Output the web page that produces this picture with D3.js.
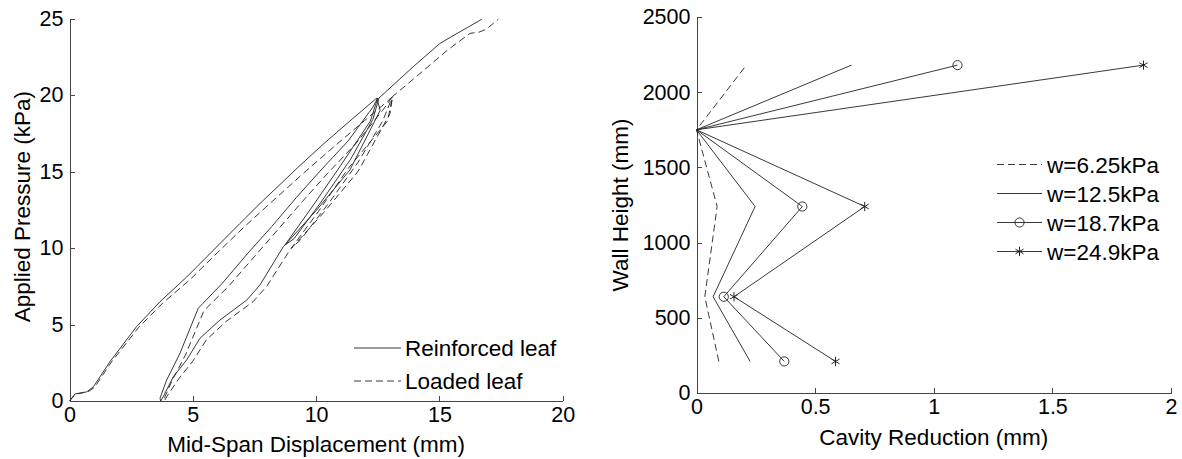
<!DOCTYPE html>
<html>
<head>
<meta charset="utf-8">
<script src="https://cdn.jsdelivr.net/npm/d3@7"></script>
<style>
  html, body { margin: 0; padding: 0; background: #fff; }
  svg { display: block; }
  text { font-family: Arial, "Liberation Sans", sans-serif; fill: #000; }
  .axis path, .axis line { stroke: #444; stroke-width: 1; shape-rendering: crispEdges; }
  .lbl { font-size: 22.5px; }
</style>
</head>
<body>
<svg id="chart" width="1182" height="459"></svg>
<script>
// ---- left panel: pressure vs mid-span displacement ----
const dispTicks = [0, 5, 10, 15, 20];
const pressTicks = [0, 5, 10, 15, 20, 25];

// reinforced leaf (solid) [displacement mm, pressure kPa]
const reinfLoad = [[0,0],[0.22,0.46],[0.7,0.6],[0.97,0.93],[1.64,2.57],[2.72,4.86],[3.67,6.49],[4.75,8.1],[5.83,9.85],[6.91,11.6],[7.72,12.9],[9.35,15.4],[10.3,16.8],[11.37,18.3],[12.46,19.8]];
const reinfUnload = [[12.6,19.0],[11.37,15.1],[10.02,12.48],[8.67,10.08],[7.72,7.58],[7.19,6.6],[6.1,5.29],[5.29,4.1],[4.75,2.68],[4.21,1.59],[3.8,0.28],[3.7,0]];
const reinfReload = [[3.67,0.18],[3.94,1.37],[4.48,3.12],[5.22,6.06],[6.2,7.7],[7.2,9.6],[8.2,11.4],[9.2,13.3],[10.2,15.1],[11.3,17.0],[12.3,19.2],[12.5,19.8]];
const reinfCycle = [[12.2,18.3],[11.0,15.4],[9.8,12.6],[8.74,10.2],[9.1,10.6],[10.2,13.0],[11.4,15.8],[12.3,18.4],[12.55,19.8]];
const reinfFinal = [[13.94,21.85],[15.02,23.37],[15.84,24.14],[16.72,24.95]];

// loaded leaf (dashed)
const loadedLoad = [[0,0],[0.25,0.45],[0.75,0.6],[1.02,0.9],[1.7,2.55],[2.8,4.8],[3.78,6.4],[4.9,7.95],[6.0,9.7],[7.1,11.4],[7.95,12.65],[9.6,15.05],[10.6,16.45],[11.8,18.1],[12.9,19.6],[13.1,19.9]];
const loadedUnload = [[13.0,18.8],[11.7,15.0],[10.3,12.3],[8.95,9.9],[8.0,7.5],[7.45,6.5],[6.35,5.2],[5.55,4.0],[5.0,2.6],[4.45,1.5],[3.95,0.3],[3.85,0]];
const loadedReload = [[3.85,0.2],[4.15,1.3],[4.7,3.0],[5.45,5.9],[6.45,7.5],[7.45,9.35],[8.45,11.2],[9.45,13.05],[10.45,14.85],[11.6,16.8],[12.7,19.0],[13.1,19.9]];
const loadedCycle = [[12.9,18.3],[11.3,15.2],[10.1,12.4],[9.0,10.0],[9.35,10.5],[10.5,12.9],[11.7,15.6],[12.7,18.3],[13.1,19.9]];
const loadedFinal = [[14.21,21.4],[15.3,22.9],[16.24,24.03],[16.6,24.1],[16.9,24.3],[17.39,24.95]];

const leftLegend = ["Reinforced leaf", "Loaded leaf"];

// ---- right panel: wall height vs cavity reduction ----
const cavTicks = [0, 0.5, 1, 1.5, 2];
const cavTickLabels = ["0", "0.5", "1", "1.5", "2"];
const heightTicks = [0, 500, 1000, 1500, 2000, 2500];
const wallHeights = [210, 640, 1240, 1750, 2180];
const cav625 = [0.094, 0.035, 0.087, 0.0, 0.21];
const cav125 = [0.226, 0.07, 0.247, 0.0, 0.653];
const cav187 = [0.37, 0.115, 0.446, 0.0, 1.10];
const cav249 = [0.586, 0.158, 0.709, 0.0, 1.884];
const rightLegend = ["w=6.25kPa", "w=12.5kPa", "w=18.7kPa", "w=24.9kPa"];

const svg = d3.select('#chart');
const ink = '#222';

function styleAxis(g) {
  g.attr('font-family', null).attr('font-size', null);
  g.selectAll('text').style('font-size', '21.5px')
    .style('font-family', 'Arial, "Liberation Sans", sans-serif');
}

// ================= left =================
const xL = d3.scaleLinear().domain([0, 20]).range([69.5, 562.7]);
const yL = d3.scaleLinear().domain([0, 25]).range([401, 18.5]);

svg.append('g').attr('class', 'axis')
  .attr('transform', 'translate(0,401)')
  .call(d3.axisBottom(xL).tickValues(dispTicks).tickFormat(d3.format('d'))
    .tickSizeInner(-5).tickSizeOuter(0).tickPadding(6))
  .call(styleAxis);
svg.append('g').attr('class', 'axis')
  .attr('transform', 'translate(69.5,0)')
  .call(d3.axisLeft(yL).tickValues(pressTicks).tickFormat(d3.format('d'))
    .tickSizeInner(-5).tickSizeOuter(0).tickPadding(6))
  .call(styleAxis);

const lineL = d3.line().x(d => xL(d[0])).y(d => yL(d[1]));
const reinf = reinfLoad.concat(reinfUnload, reinfReload, reinfCycle, reinfFinal);
const loaded = loadedLoad.concat(loadedUnload, loadedReload, loadedCycle, loadedFinal);

svg.append('path').datum(reinf)
  .attr('fill', 'none').attr('stroke', ink).attr('stroke-width', 0.9)
  .attr('d', lineL);
svg.append('path').datum(loaded)
  .attr('fill', 'none').attr('stroke', ink).attr('stroke-width', 0.9)
  .attr('stroke-dasharray', '7,4')
  .attr('d', lineL);

leftLegend.forEach((t, i) => {
  const y = 348 + i * 33;
  svg.append('line').attr('x1', 354).attr('x2', 401).attr('y1', y).attr('y2', y)
    .attr('stroke', ink).attr('stroke-width', 0.9)
    .attr('stroke-dasharray', i === 1 ? '7,4' : null);
  svg.append('text').attr('class', 'lbl').attr('x', 405).attr('y', y + 8).text(t);
});

svg.append('text').attr('class', 'lbl')
  .attr('x', xL(10)).attr('y', 452).attr('text-anchor', 'middle')
  .text('Mid-Span Displacement (mm)');
svg.append('text').attr('class', 'lbl')
  .attr('transform', `translate(30,${yL(12.7)}) rotate(-90)`)
  .attr('text-anchor', 'middle')
  .text('Applied Pressure (kPa)');

// ================= right =================
const xR = d3.scaleLinear().domain([0, 2]).range([696.5, 1171]);
const yR = d3.scaleLinear().domain([0, 2500]).range([393, 17]);

svg.append('g').attr('class', 'axis')
  .attr('transform', 'translate(0,393)')
  .call(d3.axisBottom(xR).tickValues(cavTicks).tickFormat((d, i) => cavTickLabels[i])
    .tickSizeInner(-5).tickSizeOuter(0).tickPadding(6))
  .call(styleAxis);
svg.append('g').attr('class', 'axis')
  .attr('transform', 'translate(696.5,0)')
  .call(d3.axisLeft(yR).tickValues(heightTicks).tickFormat(d3.format('d'))
    .tickSizeInner(-5).tickSizeOuter(0).tickPadding(6))
  .call(styleAxis);

const lineR = d3.line().x(d => xR(d[0])).y(d => yR(d[1]));
const series = [
  { vals: cav625, dash: '7,4', marker: null },
  { vals: cav125, dash: null, marker: null },
  { vals: cav187, dash: null, marker: 'circle' },
  { vals: cav249, dash: null, marker: 'star' }
];

const star = d3.symbol().type(d3.symbolAsterisk).size(60);

function drawMarker(g, kind, x, y) {
  if (kind === 'circle') {
    g.append('circle').attr('cx', x).attr('cy', y).attr('r', 4.6)
      .attr('fill', 'none').attr('stroke', ink).attr('stroke-width', 0.9);
  } else if (kind === 'star') {
    g.append('path').attr('d', star()).attr('transform', `translate(${x},${y})`)
      .attr('fill', 'none').attr('stroke', ink).attr('stroke-width', 1);
  }
}

series.forEach(s => {
  const pts = wallHeights.map((h, i) => [s.vals[i], h]);
  svg.append('path').datum(pts)
    .attr('fill', 'none').attr('stroke', ink).attr('stroke-width', 0.9)
    .attr('stroke-dasharray', s.dash)
    .attr('d', lineR);
  if (s.marker) {
    const g = svg.append('g');
    pts.filter(p => p[0] > 0).forEach(p => drawMarker(g, s.marker, xR(p[0]), yR(p[1])));
  }
});

rightLegend.forEach((t, i) => {
  const y = 164.5 + i * 29;
  svg.append('line').attr('x1', 997).attr('x2', 1042).attr('y1', y).attr('y2', y)
    .attr('stroke', ink).attr('stroke-width', 0.9)
    .attr('stroke-dasharray', series[i].dash);
  drawMarker(svg, series[i].marker, 1019.5, y);
  svg.append('text').attr('class', 'lbl').attr('x', 1047).attr('y', y + 8).text(t);
});

svg.append('text').attr('class', 'lbl')
  .attr('x', xR(1)).attr('y', 445).attr('text-anchor', 'middle')
  .text('Cavity Reduction (mm)');
svg.append('text').attr('class', 'lbl')
  .attr('transform', `translate(628,${yR(1250)}) rotate(-90)`)
  .attr('text-anchor', 'middle')
  .text('Wall Height (mm)');
</script>
</body>
</html>
